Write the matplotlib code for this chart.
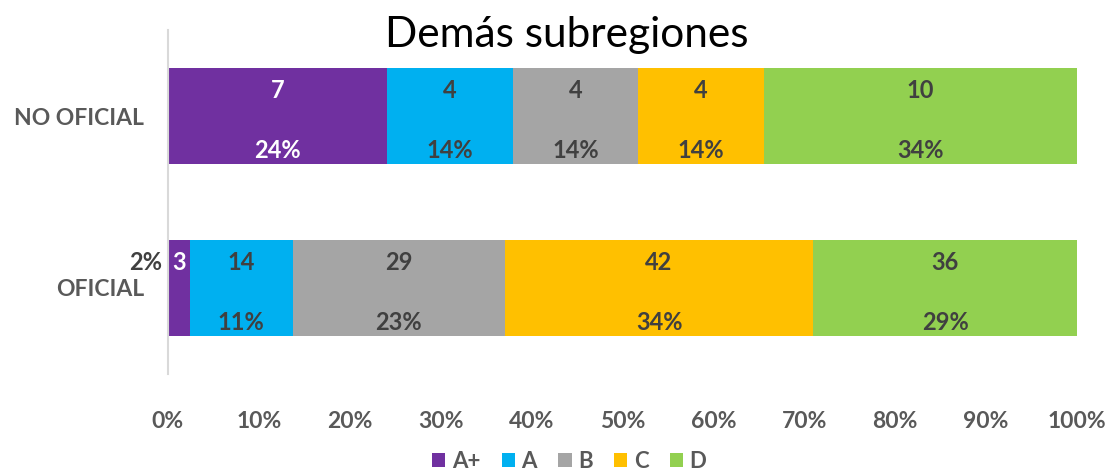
import matplotlib.pyplot as plt
import numpy as np

# Datos
categorias = ['OFICIAL', 'NO OFICIAL']
niveles = ['A+', 'A', 'B', 'C', 'D']
oficial = [3, 14, 29, 42, 36]
no_oficial = [7, 4, 4, 4, 10]
colores = ['#7030A0', '#00B0F0', '#A5A5A5', '#FFC000', '#92D050']
ticks_x = [0, 10, 20, 30, 40, 50, 60, 70, 80, 90, 100]

plt.rcParams['font.family'] = ['Lato', 'DejaVu Sans']

fig = plt.figure(figsize=(11.12, 4.72), dpi=100)
ax = fig.add_axes([0.151, 0.208, 0.8175, 0.728])

conteos = np.array([oficial, no_oficial], dtype=float)
porcentajes = conteos / conteos.sum(axis=1, keepdims=True) * 100
y = np.arange(len(categorias))
alto = 0.56

izq = np.zeros(len(categorias))
for j, nivel in enumerate(niveles):
    ax.barh(y, porcentajes[:, j], left=izq, height=alto, color=colores[j],
            label=nivel)
    for i in range(len(categorias)):
        cx = izq[i] + porcentajes[i, j] / 2
        col_txt = 'white' if j == 0 else '#404040'
        ax.text(cx, y[i] + 0.15, f'{int(conteos[i, j])}', ha='center', va='center',
                fontsize=17, fontweight='bold', color=col_txt)
        txt_pct = f'{round(porcentajes[i, j]):.0f}%'
        if porcentajes[i, j] < 5:
            ax.text(izq[i] - 0.6, y[i] + 0.15, txt_pct, ha='right', va='center',
                    fontsize=17, fontweight='bold', color='#404040')
        else:
            ax.text(cx, y[i] - 0.2, txt_pct, ha='center', va='center',
                    fontsize=17, fontweight='bold', color=col_txt)
    izq += porcentajes[:, j]

ax.set_xlim(0, 100)
ax.set_ylim(-0.5, 1.5)
ax.set_xticks(ticks_x)
ax.set_xticklabels([f'{t}%' for t in ticks_x], fontsize=16.5, fontweight='bold',
                   color='#595959')
ax.set_yticks(y)
ax.set_yticklabels(categorias, fontsize=16.5, fontweight='bold', color='#595959')
ax.tick_params(length=0)
ax.tick_params(axis='x', pad=27)
ax.tick_params(axis='y', pad=17)
for s in ['top', 'right', 'bottom']:
    ax.spines[s].set_visible(False)
ax.spines['left'].set_color('#D9D9D9')
ax.spines['left'].set_linewidth(1.5)

fig.text(0.51, 0.925, 'Demás subregiones', ha='center', va='center', fontsize=30.5,
         color='black')

fig.legend(loc='center', bbox_to_anchor=(0.512, 0.022), ncol=5, frameon=False,
           prop={'size': 16, 'weight': 'bold'}, handlelength=0.6, handleheight=0.6,
           handletextpad=0.3, columnspacing=0.95, labelcolor='#595959')

fig.savefig('out.png', dpi=100)
